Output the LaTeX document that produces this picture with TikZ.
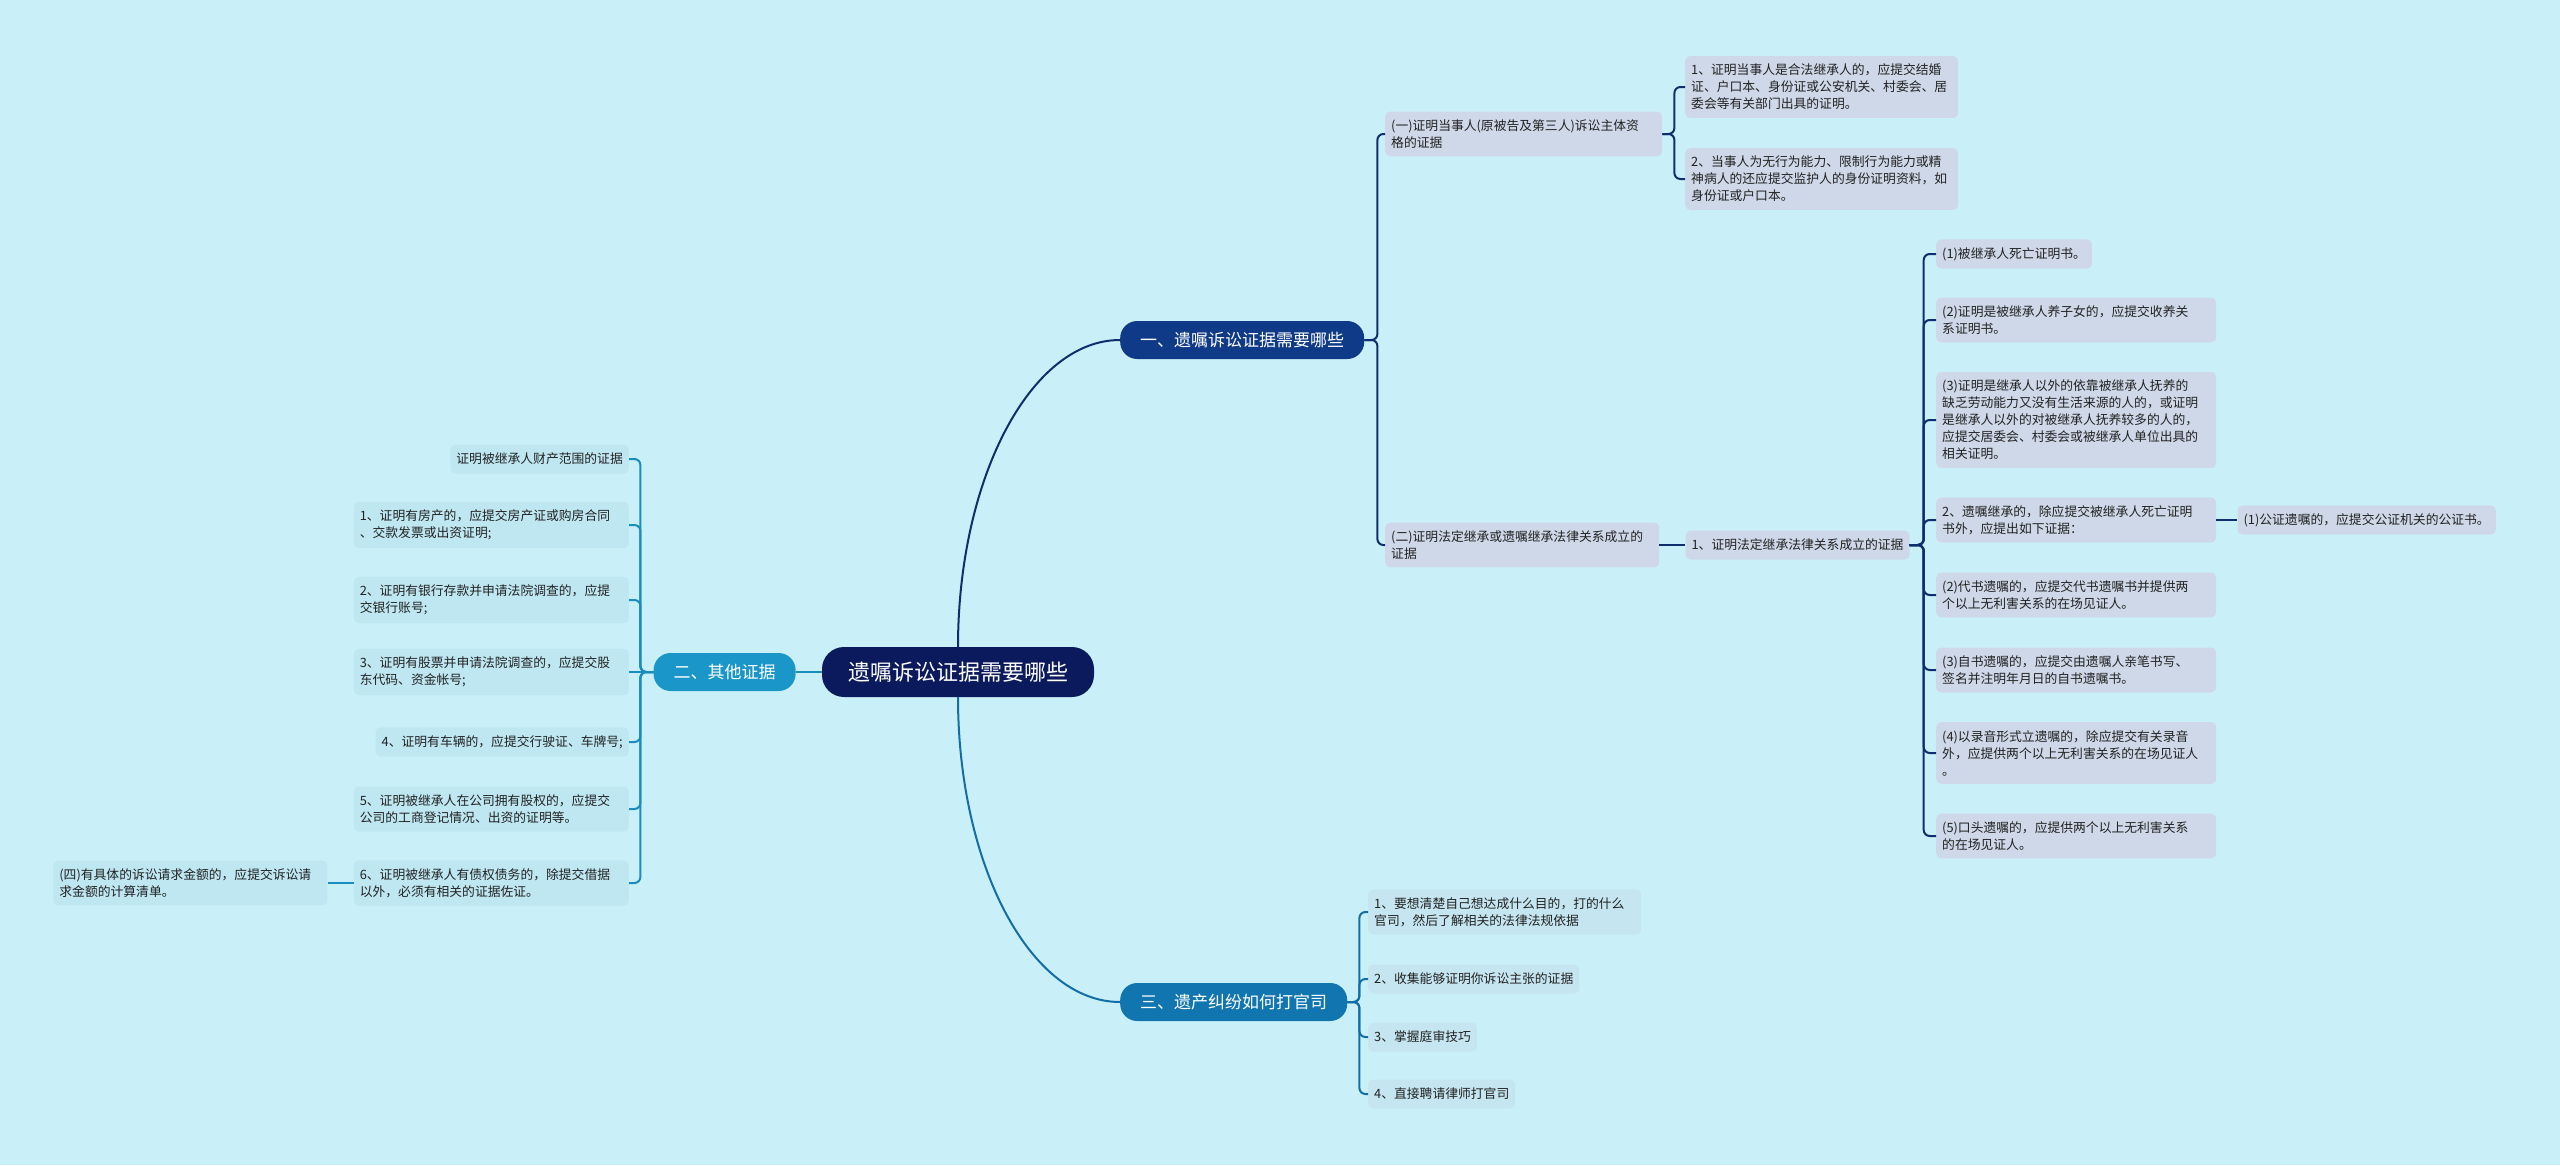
\documentclass[tikz,border=0pt]{standalone}
\usepackage{fontspec}
\usepackage{xcolor}
\usepackage{tikz}
\usetikzlibrary{positioning}
\newfontfamily\cjk{Noto Sans CJK SC}
\definecolor{skybg}{RGB}{201,240,248}
\definecolor{rootblue}{RGB}{10,26,92}
\definecolor{onefill}{RGB}{14,58,135}
\definecolor{twofill}{RGB}{26,150,200}
\definecolor{threefill}{RGB}{17,118,176}
\definecolor{oneline}{RGB}{14,47,110}
\definecolor{twoline}{RGB}{26,140,190}
\definecolor{threeline}{RGB}{19,110,168}
\definecolor{onebox}{RGB}{206,216,232}
\definecolor{twobox}{RGB}{190,231,242}
\definecolor{threebox}{RGB}{197,229,240}
\definecolor{ink}{RGB}{34,34,34}

\begin{document}
\begin{tikzpicture}[x=1pt, y=1pt,
    node distance=26pt,
    rootbox/.style={fill=rootblue, text=white, rounded corners=22pt, inner xsep=26pt,
                    minimum height=50pt, font=\cjk\fontsize{22}{26}\selectfont},
    branch/.style={text=white, rounded corners=17pt, inner xsep=20pt, minimum height=38pt,
                   font=\cjk\fontsize{17}{20}\selectfont},
    leaf/.style={text=ink, rounded corners=5pt, inner xsep=6pt, inner ysep=8pt, align=left,
                 minimum height=29pt, font=\cjk\fontsize{12.8}{17}\selectfont},
    onel/.style={leaf, fill=onebox},
    twol/.style={leaf, fill=twobox},
    threel/.style={leaf, fill=threebox},
    lk/.style={line width=2pt, rounded corners=6pt}
]
\useasboundingbox (0,0) rectangle (2560,-1165);
\fill[skybg] (0,0) rectangle (2560,-1165);

\node[rootbox] (root) at (958,-672) {遗嘱诉讼证据需要哪些};
\node[branch, fill=onefill, anchor=west] (br1) at (1120,-340) {一、遗嘱诉讼证据需要哪些};
\node[branch, fill=twofill, left=of root] (br2) {二、其他证据};
\node[branch, fill=threefill, anchor=west] (br3) at (1120,-1002) {三、遗产纠纷如何打官司};

\node[onel, text width=265pt, anchor=west] (a1) at (1385,-134) {(一)证明当事人(原被告及第三人)诉讼主体资\\格的证据};
\node[onel, text width=262pt, anchor=west] (a2) at (1385,-545) {(二)证明法定继承或遗嘱继承法律关系成立的\\证据};
\node[onel, text width=261pt, anchor=west] (a1a) at (1685,-87) {1、证明当事人是合法继承人的，应提交结婚\\证、户口本、身份证或公安机关、村委会、居\\委会等有关部门出具的证明。};
\node[onel, text width=261pt, anchor=west] (a1b) at (1685,-179) {2、当事人为无行为能力、限制行为能力或精\\神病人的还应提交监护人的身份证明资料，如\\身份证或户口本。};
\node[onel, right=of a2] (a2a) {1、证明法定继承法律关系成立的证据};

\node[onel, anchor=west] (b1) at (1936,-254) {(1)被继承人死亡证明书。};
\node[onel, text width=268pt, anchor=west] (b2) at (1936,-320) {(2)证明是被继承人养子女的，应提交收养关\\系证明书。};
\node[onel, text width=268pt, anchor=west] (b3) at (1936,-420) {(3)证明是继承人以外的依靠被继承人抚养的\\缺乏劳动能力又没有生活来源的人的，或证明\\是继承人以外的对被继承人抚养较多的人的，\\应提交居委会、村委会或被继承人单位出具的\\相关证明。};
\node[onel, text width=268pt, anchor=west] (b4) at (1936,-520) {2、遗嘱继承的，除应提交被继承人死亡证明\\书外，应提出如下证据：};
\node[onel, right=21pt of b4] (b4a) {(1)公证遗嘱的，应提交公证机关的公证书。};
\node[onel, text width=268pt, anchor=west] (b5) at (1936,-595) {(2)代书遗嘱的，应提交代书遗嘱书并提供两\\个以上无利害关系的在场见证人。};
\node[onel, text width=268pt, anchor=west] (b6) at (1936,-670) {(3)自书遗嘱的，应提交由遗嘱人亲笔书写、\\签名并注明年月日的自书遗嘱书。};
\node[onel, text width=268pt, anchor=west] (b7) at (1936,-753) {(4)以录音形式立遗嘱的，除应提交有关录音\\外，应提供两个以上无利害关系的在场见证人\\。};
\node[onel, text width=268pt, anchor=west] (b8) at (1936,-836) {(5)口头遗嘱的，应提供两个以上无利害关系\\的在场见证人。};

\node[threel, text width=261pt, anchor=west] (c1) at (1368,-912) {1、要想清楚自己想达成什么目的，打的什么\\官司，然后了解相关的法律法规依据};
\node[threel, anchor=west] (c2) at (1368,-979) {2、收集能够证明你诉讼主张的证据};
\node[threel, anchor=west] (c3) at (1368,-1037) {3、掌握庭审技巧};
\node[threel, anchor=west] (c4) at (1368,-1094) {4、直接聘请律师打官司};

\node[twol, anchor=east] (l0) at (629,-459) {证明被继承人财产范围的证据};
\node[twol, text width=263pt, anchor=east] (l1) at (629,-525) {1、证明有房产的，应提交房产证或购房合同\\、交款发票或出资证明;};
\node[twol, text width=263pt, anchor=east] (l2) at (629,-600) {2、证明有银行存款并申请法院调查的，应提\\交银行账号;};
\node[twol, text width=263pt, anchor=east] (l3) at (629,-672) {3、证明有股票并申请法院调查的，应提交股\\东代码、资金帐号;};
\node[twol, anchor=east] (l4) at (629,-742) {4、证明有车辆的，应提交行驶证、车牌号;};
\node[twol, text width=263pt, anchor=east] (l5) at (629,-809) {5、证明被继承人在公司拥有股权的，应提交\\公司的工商登记情况、出资的证明等。};
\node[twol, text width=263pt, anchor=east] (l6) at (629,-883) {6、证明被继承人有债权债务的，除提交借据\\以外，必须有相关的证据佐证。};
\node[twol, text width=262pt, left=of l6] (l6a) {(四)有具体的诉讼请求金额的，应提交诉讼请\\求金额的计算清单。};

\draw[lk, oneline] (root.north) .. controls +(0,167) and +(-90,0) .. (br1.west);
\draw[lk, twoline] (root.west) -- (br2.east);
\draw[lk, threeline] (root.south) .. controls +(0,-167) and +(-90,0) .. (br3.west);

\foreach \c in {a1,a2} \draw[lk, oneline] (br1.east) -- ++(13,0) |- (\c.west);
\foreach \c in {a1a,a1b} \draw[lk, oneline] (a1.east) -- ++(12,0) |- (\c.west);
\draw[lk, oneline] (a2.east) -- (a2a.west);
\foreach \c in {b1,b2,b3,b4,b5,b6,b7,b8} \draw[lk, oneline] (a2a.east) -- ++(14,0) |- (\c.west);
\draw[lk, oneline] (b4.east) -- (b4a.west);

\foreach \c in {c1,c2,c3,c4} \draw[lk, threeline] (br3.east) -- ++(12,0) |- (\c.west);

\foreach \c in {l0,l1,l2,l4,l5,l6} \draw[lk, twoline] (br2.west) -- ++(-13,0) |- (\c.east);
\draw[lk, twoline] (br2.west) -- (l3.east);
\draw[lk, twoline] (l6.west) -- (l6a.east);
\end{tikzpicture}
\end{document}
